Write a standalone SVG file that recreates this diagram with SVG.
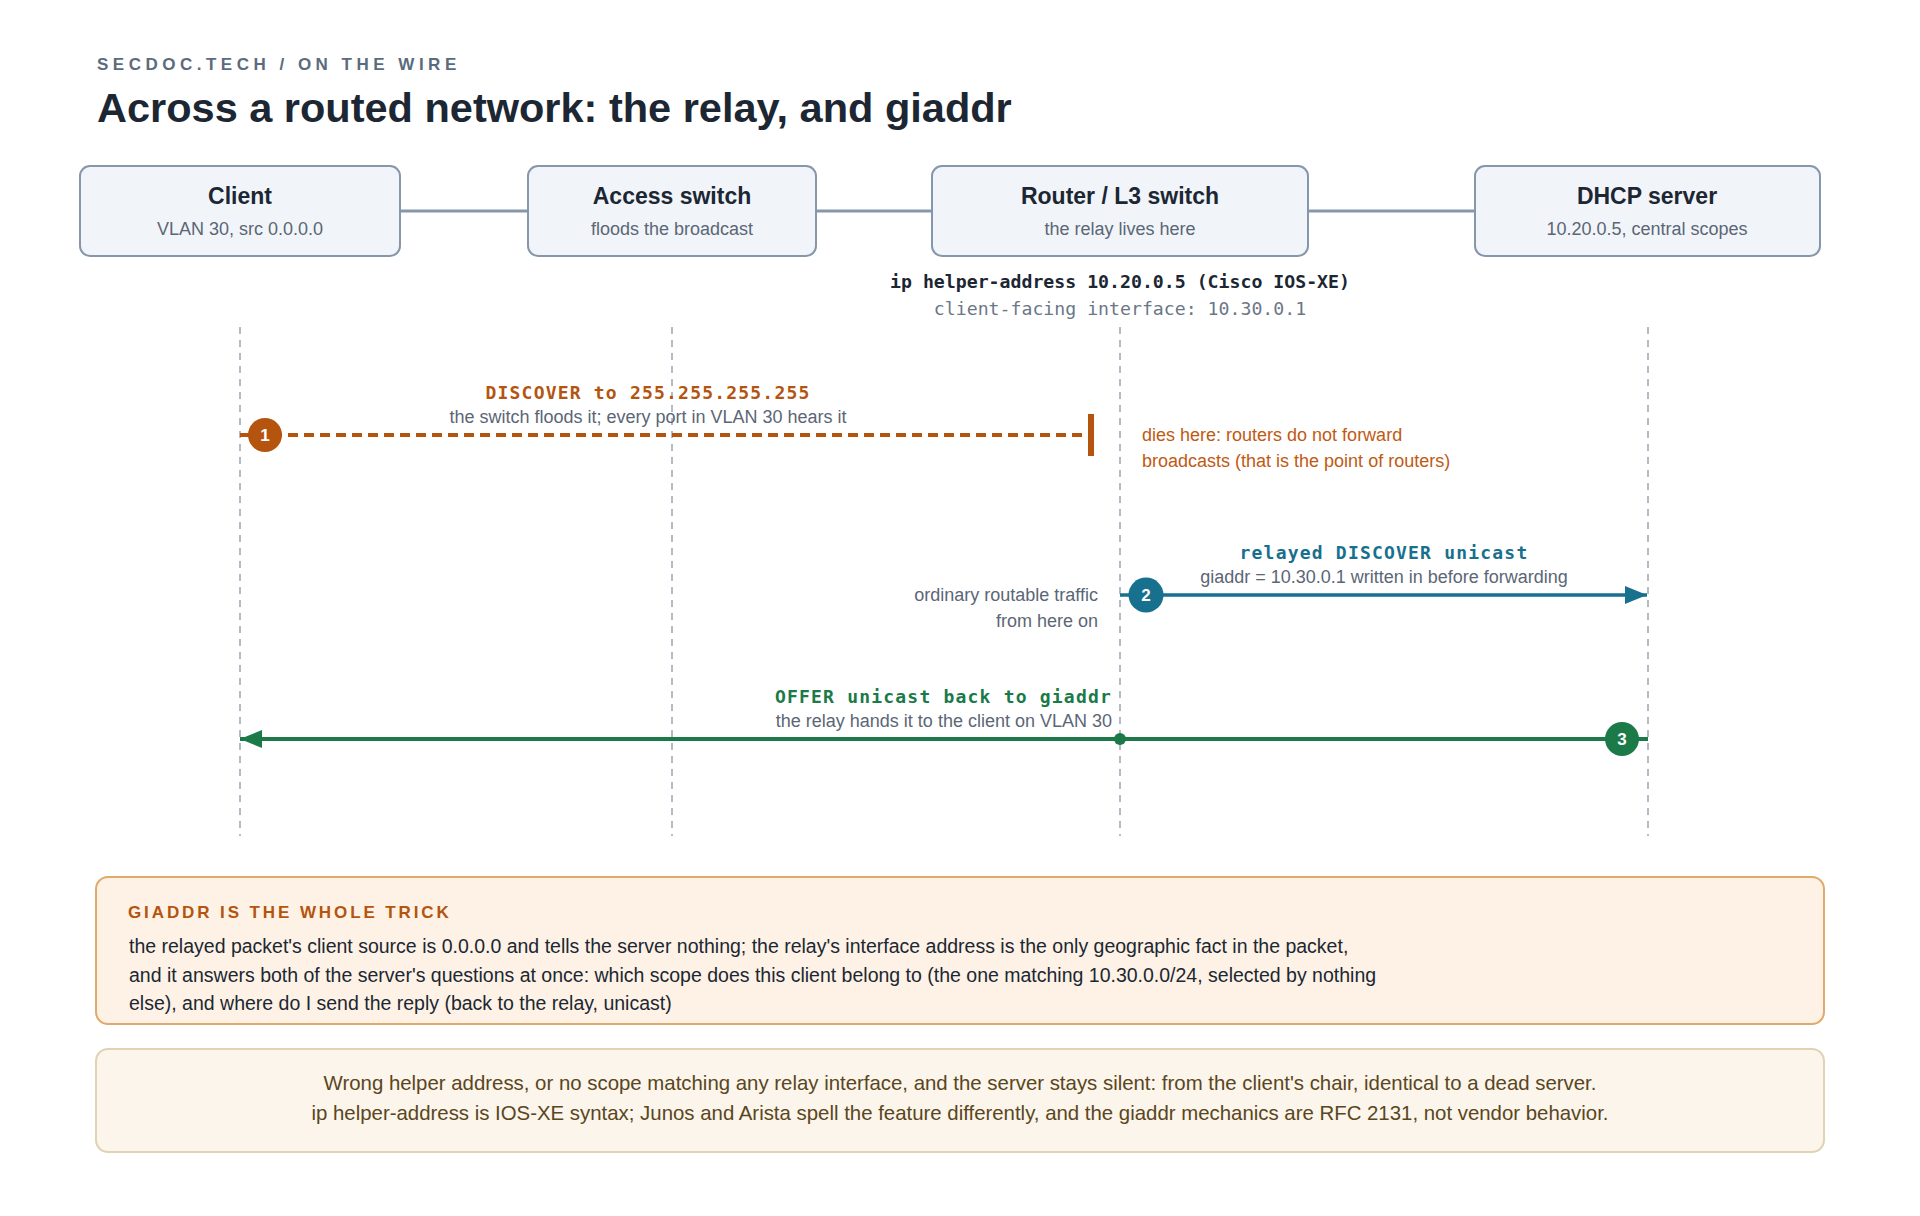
<svg xmlns="http://www.w3.org/2000/svg" width="1920" height="1216" viewBox="0 0 1920 1216">
<defs>
<style>
.sans{font-family:"Liberation Sans",Arial,sans-serif}
.mono{font-family:"DejaVu Sans Mono","Liberation Mono",monospace}
.node rect{fill:#f1f5f9;stroke:#8797ab;stroke-width:2}
.ntitle{font-family:"Liberation Sans",Arial,sans-serif;font-weight:bold;font-size:23px;fill:#1c2733;text-anchor:middle}
.nsub{font-family:"Liberation Sans",Arial,sans-serif;font-size:18px;fill:#5b6676;text-anchor:middle}
.link{stroke:#8797ab;stroke-width:3;fill:none}
.life{stroke:#9aa6b4;stroke-width:1.5;stroke-dasharray:7 6;fill:none}
.msg{font-family:"DejaVu Sans Mono","Liberation Mono",monospace;font-weight:bold;font-size:18px;letter-spacing:1.2px}
.sub{font-family:"Liberation Sans",Arial,sans-serif;font-size:18px;fill:#5b6676}
.num{font-family:"Liberation Sans",Arial,sans-serif;font-weight:bold;font-size:17px;fill:#ffffff;text-anchor:middle}
.body{font-family:"Liberation Sans",Arial,sans-serif;font-size:19.5px;fill:#1c2733}
.note{font-family:"Liberation Sans",Arial,sans-serif;font-size:20.4px;fill:#5a4620;text-anchor:middle}
</style>
<marker id="arrTeal" viewBox="0 0 22 18" refX="22" refY="9" markerWidth="22" markerHeight="18" markerUnits="userSpaceOnUse" orient="auto"><path d="M0,0 L22,9 L0,18 Z" fill="#17708d"/></marker>
<marker id="arrGreen" viewBox="0 0 22 18" refX="22" refY="9" markerWidth="22" markerHeight="18" markerUnits="userSpaceOnUse" orient="auto"><path d="M0,0 L22,9 L0,18 Z" fill="#1b7a48"/></marker>
</defs>
<rect width="1920" height="1216" fill="#ffffff"/>

<text class="sans" x="97" y="70" font-size="17" font-weight="bold" letter-spacing="4.5" fill="#5b6b7d">SECDOC.TECH / ON THE WIRE</text>
<text class="sans" x="97" y="122" font-size="41.5" font-weight="bold" fill="#1c2733">Across a routed network: the relay, and giaddr</text>

<g id="connectors">
<line class="link" x1="400" y1="211" x2="528" y2="211"/>
<line class="link" x1="816" y1="211" x2="932" y2="211"/>
<line class="link" x1="1308" y1="211" x2="1475" y2="211"/>
<line class="life" x1="240" y1="327" x2="240" y2="836"/>
<line class="life" x1="672" y1="327" x2="672" y2="836"/>
<line class="life" x1="1120" y1="327" x2="1120" y2="836"/>
<line class="life" x1="1648" y1="327" x2="1648" y2="836"/>
</g>

<g id="node-client" class="node">
<rect x="80" y="166" width="320" height="90" rx="10"/>
<text class="ntitle" x="240" y="204">Client</text>
<text class="nsub" x="240" y="235">VLAN 30, src 0.0.0.0</text>
</g>
<g id="node-access" class="node">
<rect x="528" y="166" width="288" height="90" rx="10"/>
<text class="ntitle" x="672" y="204">Access switch</text>
<text class="nsub" x="672" y="235">floods the broadcast</text>
</g>
<g id="node-router" class="node">
<rect x="932" y="166" width="376" height="90" rx="10"/>
<text class="ntitle" x="1120" y="204">Router / L3 switch</text>
<text class="nsub" x="1120" y="235">the relay lives here</text>
</g>
<g id="node-dhcp" class="node">
<rect x="1475" y="166" width="345" height="90" rx="10"/>
<text class="ntitle" x="1647" y="204">DHCP server</text>
<text class="nsub" x="1647" y="235">10.20.0.5, central scopes</text>
</g>

<g id="router-note">
<text class="mono" x="1120" y="288" font-size="18.2" font-weight="bold" fill="#1c2733" text-anchor="middle">ip helper-address 10.20.0.5 (Cisco IOS-XE)</text>
<text class="mono" x="1120" y="315" font-size="18.2" fill="#6b7787" text-anchor="middle">client-facing interface: 10.30.0.1</text>
</g>

<g id="msg1">
<line x1="240" y1="435" x2="1088" y2="435" stroke="#b4540f" stroke-width="4" stroke-dasharray="10 6"/>
<line x1="1091" y1="414" x2="1091" y2="456" stroke="#b4540f" stroke-width="6"/>
<circle cx="265" cy="435" r="17" fill="#b4540f"/>
<text class="num" x="265" y="441">1</text>
<text class="msg" x="648" y="399" fill="#b4540f" text-anchor="middle">DISCOVER to 255.255.255.255</text>
<text class="sub" x="648" y="423" text-anchor="middle">the switch floods it; every port in VLAN 30 hears it</text>
<text class="sans" x="1142" y="441" font-size="18" fill="#c05a12">dies here: routers do not forward</text>
<text class="sans" x="1142" y="467" font-size="18" fill="#c05a12">broadcasts (that is the point of routers)</text>
</g>

<g id="msg2">
<line x1="1120" y1="595" x2="1647" y2="595" stroke="#17708d" stroke-width="3.5" marker-end="url(#arrTeal)"/>
<circle cx="1146" cy="595" r="17.5" fill="#17708d"/>
<text class="num" x="1146" y="601">2</text>
<text class="msg" x="1384" y="559" fill="#17708d" text-anchor="middle">relayed DISCOVER unicast</text>
<text class="sub" x="1384" y="583" text-anchor="middle">giaddr = 10.30.0.1 written in before forwarding</text>
<text class="sub" x="1098" y="601" text-anchor="end">ordinary routable traffic</text>
<text class="sub" x="1098" y="627" text-anchor="end">from here on</text>
</g>

<g id="msg3">
<line x1="1648" y1="739" x2="240" y2="739" stroke="#1b7a48" stroke-width="4" marker-end="url(#arrGreen)"/>
<circle cx="1120" cy="739" r="6" fill="#1b7a48"/>
<circle cx="1622" cy="739" r="17" fill="#1b7a48"/>
<text class="num" x="1622" y="745">3</text>
<text class="msg" x="1112" y="703" fill="#1b7a48" text-anchor="end">OFFER unicast back to giaddr</text>
<text class="sub" x="1112" y="727" text-anchor="end">the relay hands it to the client on VLAN 30</text>
</g>

<g id="callout-giaddr">
<rect x="96" y="877" width="1728" height="147" rx="12" fill="#fdf2e5" stroke="#dfaa6a" stroke-width="2"/>
<text class="sans" x="128" y="918" font-size="17" font-weight="bold" letter-spacing="2.9" fill="#b4540f">GIADDR IS THE WHOLE TRICK</text>
<text class="body" x="129" y="953">the relayed packet's client source is 0.0.0.0 and tells the server nothing; the relay's interface address is the only geographic fact in the packet,</text>
<text class="body" x="129" y="982">and it answers both of the server's questions at once: which scope does this client belong to (the one matching 10.30.0.0/24, selected by nothing</text>
<text class="body" x="129" y="1010">else), and where do I send the reply (back to the relay, unicast)</text>
</g>

<g id="callout-note">
<rect x="96" y="1049" width="1728" height="103" rx="12" fill="#fbf5ec" stroke="#e0d2b4" stroke-width="2"/>
<text class="note" x="960" y="1090">Wrong helper address, or no scope matching any relay interface, and the server stays silent: from the client's chair, identical to a dead server.</text>
<text class="note" x="960" y="1120">ip helper-address is IOS-XE syntax; Junos and Arista spell the feature differently, and the giaddr mechanics are RFC 2131, not vendor behavior.</text>
</g>
</svg>
